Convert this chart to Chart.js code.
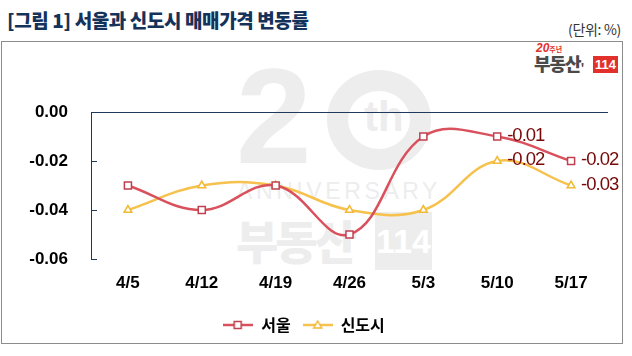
<!DOCTYPE html>
<html><head><meta charset="utf-8">
<script src="https://cdn.jsdelivr.net/npm/chart.js@4.4.1/dist/chart.umd.min.js"></script>
<style>
html,body{margin:0;padding:0;background:#fff;}
#wrap{position:relative;width:632px;height:356px;overflow:hidden;font-family:'Noto Sans CJK KR','Liberation Sans',sans-serif;}
.abs{position:absolute;white-space:nowrap;}
#frame{left:1px;top:41px;width:622px;height:303px;border:1px solid #8c8c8c;box-sizing:border-box;}
#title{left:7px;top:6px;font-size:19px;font-weight:900;color:#14325a;letter-spacing:-0.4px;line-height:28px;}
#unit{right:11px;top:19px;font-size:14px;color:#333;line-height:20px;letter-spacing:-0.3px;}
.wm{color:#ededed;}
#chart{position:absolute;left:0;top:0;z-index:3;}
</style></head>
<body><div id="wrap">
<div id="frame" class="abs"></div>
<div id="title" class="abs">[그림 1] 서울과 신도시 매매가격 변동률</div>
<div id="unit" class="abs">(단위: %)</div>
<!-- logo -->
<div class="abs" style="left:536px;top:42px;color:#e2312d;font:italic 700 12px 'Liberation Sans';line-height:12px;">20<span style="font:700 7px 'Noto Sans CJK KR';font-style:normal;">주년</span></div>
<div class="abs" style="left:534px;top:51px;color:#4a4a4a;font:900 18px 'Noto Sans CJK KR';line-height:24px;letter-spacing:-1px;">부동산<span style="font-size:10px;">'</span></div>
<div class="abs" style="left:593px;top:56px;width:25px;height:17px;background:#e2312d;color:#fff;font:700 13px 'Liberation Sans';line-height:17px;text-align:center;">114</div>
<!-- watermark -->
<div class="abs wm" style="left:236px;top:48px;font:700 136px 'Liberation Sans';line-height:136px;">2</div>
<div class="abs" style="left:327px;top:70px;width:104px;height:100px;border:21px solid #ededed;border-radius:50%;box-sizing:border-box;"></div>
<div class="abs wm" style="left:364px;top:92px;font:700 42px 'Liberation Sans';line-height:50px;">th</div>
<div class="abs wm" style="left:237px;top:178px;font:400 23px 'Liberation Sans';line-height:26px;letter-spacing:3.6px;">ANNIVERSARY</div>
<div class="abs wm" style="left:236px;top:208px;font:900 46px 'Noto Sans CJK KR';line-height:62px;letter-spacing:-3px;">부동산</div>
<div class="abs" style="left:375px;top:212px;width:57px;height:58px;background:#ededed;color:#fff;font:700 34px 'Liberation Sans';line-height:58px;text-align:center;">114</div>
<canvas id="chart" width="632" height="356"></canvas>
</div>
<script>
const categories = ['4/5', '4/12', '4/19', '4/26', '5/3', '5/10', '5/17'];
const seoul = [-0.03, -0.04, -0.03, -0.05, -0.01, -0.01, -0.02];
const newTowns = [-0.04, -0.03, -0.03, -0.04, -0.04, -0.02, -0.03];
const seriesNames = ['서울', '신도시'];
const yMin = -0.06, yMax = 0.00, yStep = 0.02;
const labeledPoints = [5, 6];

const NAVY = '#1f3a5c';
const SEOUL_LINE = '#d9515d', SEOUL_MARK = '#c0404f';
const NT_LINE = '#f6c14c', NT_MARK = '#f2b935';
const LBL_FONT = "'Liberation Sans', Arial, sans-serif";

function legendImage(lineColor, markColor, shape) {
  const c = document.createElement('canvas');
  c.width = 30; c.height = 12;
  const g = c.getContext('2d');
  g.strokeStyle = lineColor; g.lineWidth = 2.5;
  g.beginPath(); g.moveTo(0, 6); g.lineTo(30, 6); g.stroke();
  g.fillStyle = '#fff'; g.strokeStyle = markColor; g.lineWidth = 1.5;
  g.beginPath();
  if (shape === 'rect') { g.rect(11, 2.5, 7, 7); }
  else { g.moveTo(15, 2); g.lineTo(19, 9); g.lineTo(11, 9); g.closePath(); }
  g.fill(); g.stroke();
  return c;
}
const legendImgs = [legendImage(SEOUL_LINE, SEOUL_MARK, 'rect'), legendImage(NT_LINE, NT_MARK, 'tri')];

const overlayPlugin = {
  id: 'overlay',
  afterDraw(chart) {
    const ctx = chart.ctx, y = chart.scales.y, a = chart.chartArea;
    ctx.save();
    ctx.strokeStyle = NAVY; ctx.lineWidth = 1;
    y.ticks.forEach(t => {
      const py = Math.round(y.getPixelForValue(t.value)) + 0.5;
      ctx.beginPath(); ctx.moveTo(a.left, py); ctx.lineTo(a.left + 6, py); ctx.stroke();
    });
    ctx.font = '18.5px ' + LBL_FONT;
    ctx.letterSpacing = '-1px';
    ctx.fillStyle = '#780808';
    ctx.textAlign = 'left'; ctx.textBaseline = 'middle';
    chart.data.datasets.forEach((ds, di) => {
      const meta = chart.getDatasetMeta(di);
      labeledPoints.forEach(i => {
        const p = meta.data[i];
        ctx.fillText(ds.data[i].toFixed(2), p.x + 10, p.y - 1);
      });
    });
    ctx.restore();
  }
};

new Chart(document.getElementById('chart'), {
  type: 'line',
  data: {
    labels: categories,
    datasets: [
      { label: seriesNames[0], data: seoul, borderColor: SEOUL_LINE, borderWidth: 2.5,
        tension: 0.4, pointStyle: 'rect', pointRadius: 5, pointBorderWidth: 1.5,
        pointBackgroundColor: '#fff', pointBorderColor: SEOUL_MARK },
      { label: seriesNames[1], data: newTowns, borderColor: NT_LINE, borderWidth: 2.5,
        tension: 0.4, pointStyle: 'triangle', pointRadius: 4.5, pointBorderWidth: 1.5,
        pointBackgroundColor: '#fff', pointBorderColor: NT_MARK }
    ]
  },
  options: {
    responsive: false, animation: false,
    layout: { padding: { left: 0, right: 24, top: 112, bottom: 13 } },
    plugins: {
      tooltip: { enabled: false },
      legend: {
        position: 'bottom',
        labels: {
          usePointStyle: true, pointStyleWidth: 30, padding: 12,
          color: '#000', font: { family: "'Noto Sans CJK KR', sans-serif", size: 16, weight: '700' },
          generateLabels(chart) {
            return chart.data.datasets.map((ds, i) => ({
              text: ds.label, pointStyle: legendImgs[i], datasetIndex: i,
              fillStyle: '#fff', strokeStyle: ds.borderColor, lineWidth: 0, hidden: false, fontColor: '#000'
            }));
          }
        }
      }
    },
    scales: {
      x: {
        offset: true,
        grid: { display: false, drawTicks: false },
        border: { display: false },
        ticks: { color: '#000', padding: 14, font: { family: LBL_FONT, size: 17, weight: '700' } },
        afterFit(s) { s.height = 46; }
      },
      y: {
        min: yMin, max: yMax,
        grid: { drawTicks: false, color: c => (c.tick && c.tick.value === 0 ? NAVY : 'rgba(0,0,0,0)'), lineWidth: 1 },
        border: { display: true, color: NAVY, width: 1 },
        ticks: { stepSize: yStep, color: '#000', padding: 23,
          font: { family: LBL_FONT, size: 17, weight: '700' },
          callback: v => (Math.abs(v) < 1e-9 ? 0 : v).toFixed(2) },
        afterFit(s) { s.width = 91; }
      }
    }
  },
  plugins: [overlayPlugin]
});
</script>
</body></html>
